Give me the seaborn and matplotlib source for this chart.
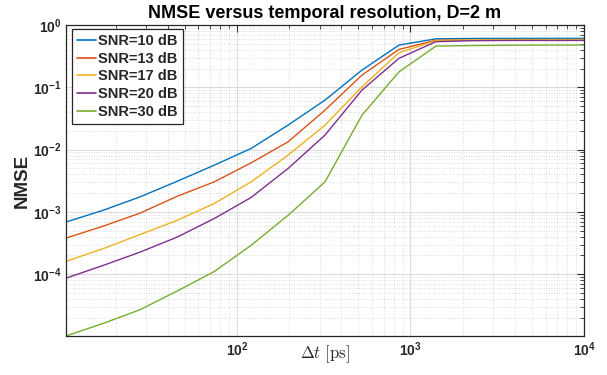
import numpy as np
import pandas as pd
import matplotlib
matplotlib.use("Agg")
import matplotlib.pyplot as plt
import matplotlib.ticker as mticker
import seaborn as sns

# ---- data ----
dt_ps = [10.35, 16.9, 27.6, 45.2, 73.8, 120.5, 196.9, 321.6, 525.5, 858.6,
         1402, 2291, 3748, 6124, 10000]
snr_labels = ["SNR=10 dB", "SNR=13 dB", "SNR=17 dB", "SNR=20 dB", "SNR=30 dB"]
nmse_10 = [6.89e-4, 1.06e-3, 1.74e-3, 3.10e-3, 5.61e-3, 1.04e-2, 2.47e-2, 6.22e-2,
           0.189, 0.476, 0.600, 0.608, 0.610, 0.611, 0.611]
nmse_13 = [3.80e-4, 5.89e-4, 9.55e-4, 1.78e-3, 3.03e-3, 6.11e-3, 1.33e-2, 4.30e-2,
           0.157, 0.406, 0.570, 0.574, 0.575, 0.575, 0.575]
nmse_17 = [1.61e-4, 2.57e-4, 4.32e-4, 7.33e-4, 1.36e-3, 3.03e-3, 8.13e-3, 2.47e-2,
           0.102, 0.359, 0.560, 0.580, 0.585, 0.585, 0.585]
nmse_20 = [8.65e-5, 1.38e-4, 2.26e-4, 3.94e-4, 7.80e-4, 1.70e-3, 4.97e-3, 1.71e-2,
           9.02e-2, 0.292, 0.540, 0.560, 0.565, 0.565, 0.565]
nmse_30 = [1.02e-5, 1.62e-5, 2.69e-5, 5.37e-5, 1.10e-4, 2.90e-4, 8.81e-4, 3.03e-3,
           3.57e-2, 0.177, 0.459, 0.468, 0.473, 0.477, 0.477]
colors = ["#0072BD", "#D95319", "#EDB120", "#7E2F8E", "#77AC30"]

series = [nmse_10, nmse_13, nmse_17, nmse_20, nmse_30]
rows = []
for lab, vals in zip(snr_labels, series):
    for x, y in zip(dt_ps, vals):
        rows.append({"dt": x, "nmse": y, "snr": lab})
df = pd.DataFrame(rows)

sns.set_style("white")
plt.rcParams["font.family"] = ["Liberation Sans", "DejaVu Sans"]
plt.rcParams["mathtext.fontset"] = "custom"
plt.rcParams["mathtext.rm"] = "Liberation Sans:bold"
plt.rcParams["mathtext.bf"] = "Liberation Sans:bold"
plt.rcParams["mathtext.it"] = "Liberation Sans:italic:bold"

fig = plt.figure(figsize=(6.07, 3.75), dpi=100)
ax = fig.add_axes([66/607, 1-336/375, (584-66)/607, (336-25)/375])

sns.lineplot(data=df, x="dt", y="nmse", hue="snr", hue_order=snr_labels,
             palette=colors, linewidth=1.0, ax=ax, legend=False)

ax.set_xscale("log")
ax.set_yscale("log")
ax.set_xlim(min(dt_ps), max(dt_ps))
ax.set_ylim(min(nmse_30), 1.0)

def fmt(v, pos):
    e = int(np.round(np.log10(v)))
    return r"$\mathbf{10^{%d}}$" % e

ax.xaxis.set_major_locator(mticker.LogLocator(base=10, numticks=10))
ax.yaxis.set_major_locator(mticker.LogLocator(base=10, numticks=10))
ax.xaxis.set_minor_locator(mticker.LogLocator(base=10, subs=np.arange(2, 10), numticks=20))
ax.yaxis.set_minor_locator(mticker.LogLocator(base=10, subs=np.arange(2, 10), numticks=20))
ax.xaxis.set_major_formatter(mticker.FuncFormatter(fmt))
ax.yaxis.set_major_formatter(mticker.FuncFormatter(fmt))
ax.xaxis.set_minor_formatter(mticker.NullFormatter())
ax.yaxis.set_minor_formatter(mticker.NullFormatter())

ax.tick_params(which="both", direction="in", top=True, right=True,
               colors="#262626", labelsize=10)
ax.tick_params(which="major", length=5, width=0.8)
ax.tick_params(which="minor", length=3, width=0.6)

ax.grid(True, which="major", color="#dcdcdc", linewidth=0.8, linestyle="-")
ax.grid(True, which="minor", color="#d0d0d0", linewidth=0.6, linestyle=(0, (1, 2)))
ax.set_axisbelow(True)
for s in ax.spines.values():
    s.set_color("#262626")
    s.set_linewidth(0.9)
    s.set_visible(True)

ax.set_title("NMSE versus temporal resolution, D=2 m", fontsize=13,
             fontweight="bold", pad=5, color="black")
ax.set_ylabel("NMSE", fontsize=13.5, fontweight="bold", labelpad=1)
ax.set_xlabel(r"$\Delta t\ [\mathrm{ps}]$", fontsize=12, math_fontfamily="cm")
ax.xaxis.set_label_coords(0.5, -0.025)

handles = [plt.Line2D([], [], color=c, linewidth=1.2) for c in colors]
leg = ax.legend(handles, snr_labels, loc="upper left",
                bbox_to_anchor=(6/518, 1-4/311), borderaxespad=0,
                prop={"weight": "bold", "size": 10.5}, frameon=True,
                fancybox=False, edgecolor="#262626", framealpha=1,
                handlelength=1.3, handletextpad=0.15, labelspacing=0.25,
                borderpad=0.35)
leg.get_frame().set_linewidth(0.9)

fig.savefig("out.png", dpi=100)
